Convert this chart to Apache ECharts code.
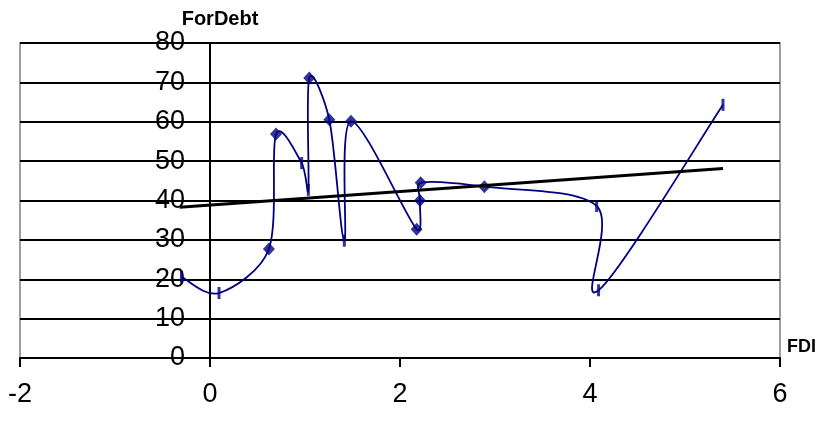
<!DOCTYPE html>
<html>
<head>
<meta charset="utf-8">
<script src="https://cdn.jsdelivr.net/npm/echarts@6/dist/echarts.min.js"></script>
<style>
  html, body { margin: 0; padding: 0; background: #fff; }
  #chart { width: 823px; height: 426px; }
</style>
</head>
<body>
<div id="chart"></div>
<script>
// FDI (x) against ForDebt (y), in data order, joined by a smoothed curve
const fdi     = [-0.30, 0.095, 0.62, 0.695, 0.965, 1.035, 1.045, 1.256, 1.414, 1.484, 2.175, 2.21, 2.218, 2.888, 4.07, 4.09, 5.40];
const forDebt = [20.6, 16.5, 27.7, 56.9, 49.5, 42.7, 71.1, 60.5, 29.8, 60.1, 32.7, 40.0, 44.5, 43.5, 38.6, 17.2, 64.3];
// marker kind per point: diamond or short vertical bar
const markerKind = ['bar', 'bar', 'diamond', 'diamond', 'bar', 'bar', 'diamond', 'diamond', 'bar',
                    'diamond', 'diamond', 'diamond', 'diamond', 'diamond', 'bar', 'bar', 'bar'];

// linear trend line end points
const trendX = [-0.32, 5.40];
const trendY = [38.3, 48.1];

// axis ranges
const xRange = { min: -2, max: 6, step: 2 };
const yRange = { min: 0, max: 80, step: 10 };

const NAVY = '#000080';
const FONT = 'Liberation Sans, Arial, sans-serif';

// plot area box (pixels from the container edges)
const GRID = { left: 20, right: 43, top: 43, bottom: 68 };
const CHART_W = 823;
// the value axis is drawn where FDI = 0
const plotW = CHART_W - GRID.left - GRID.right;
const yAxisShift = -plotW * (0 - xRange.min) / (xRange.max - xRange.min);

const pairs = fdi.map((x, i) => [x, forDebt[i]]);

const markerData = pairs.map((p, i) => {
  const diamond = markerKind[i] === 'diamond';
  return {
    value: p,
    symbol: diamond ? 'diamond' : 'rect',
    symbolSize: diamond ? [12, 13] : [3, 12]
  };
});

const trendData = trendX.map((x, i) => [x, trendY[i]]);

// control handle: a sixth of the neighbour chord, kept short on short segments
function handle(from, to, segLen) {
  let dx = (to[0] - from[0]) / 6, dy = (to[1] - from[1]) / 6;
  const len = Math.hypot(dx, dy), cap = 0.35 * segLen;
  if (len > cap && len > 0) { dx *= cap / len; dy *= cap / len; }
  return [dx, dy];
}

// cardinal segment from point i to point i+1, in pixel space
function renderSegment(params, api) {
  const i = params.dataIndex;
  const n = pairs.length;
  if (i >= n - 1) return null;
  const at = k => api.coord(pairs[Math.max(0, Math.min(n - 1, k))]);
  const p0 = at(i - 1), p1 = at(i), p2 = at(i + 1), p3 = at(i + 2);
  const seg = Math.hypot(p2[0] - p1[0], p2[1] - p1[1]);
  const h1 = handle(p0, p2, seg), h2 = handle(p1, p3, seg);
  return {
    type: 'bezierCurve',
    shape: {
      x1: p1[0], y1: p1[1],
      x2: p2[0], y2: p2[1],
      cpx1: p1[0] + h1[0], cpy1: p1[1] + h1[1],
      cpx2: p2[0] - h2[0], cpy2: p2[1] - h2[1]
    },
    style: { stroke: NAVY, lineWidth: 1.8, fill: null }
  };
}

const chart = echarts.init(document.getElementById('chart'), null, { renderer: 'canvas' });
chart.setOption({
  animation: false,
  backgroundColor: '#ffffff',
  grid: {
    left: GRID.left, right: GRID.right, top: GRID.top, bottom: GRID.bottom,
    containLabel: false,
    outerBoundsMode: 'none',
    show: true, borderColor: '#808080', borderWidth: 1.5, backgroundColor: 'transparent'
  },
  xAxis: {
    type: 'value',
    min: xRange.min, max: xRange.max, interval: xRange.step,
    name: 'FDI',
    nameLocation: 'end',
    nameGap: 7,
    nameTextStyle: { fontFamily: FONT, fontSize: 18, fontWeight: 'bold', color: '#000',
                     verticalAlign: 'bottom', padding: [0, 0, 2, 0] },
    axisLine: { onZero: false, lineStyle: { color: '#000', width: 2 } },
    axisTick: { show: true, length: 9, lineStyle: { color: '#000', width: 2 } },
    axisLabel: { fontFamily: FONT, fontSize: 27, color: '#000', margin: 23 },
    splitLine: { show: false }
  },
  yAxis: {
    type: 'value',
    min: yRange.min, max: yRange.max, interval: yRange.step,
    offset: yAxisShift,
    name: 'ForDebt',
    nameLocation: 'end',
    nameGap: 14,
    nameTextStyle: { fontFamily: FONT, fontSize: 20, fontWeight: 'bold', color: '#000',
                     padding: [0, 0, 0, 20] },
    axisLine: { onZero: false, lineStyle: { color: '#000', width: 2 } },
    axisTick: { show: true, length: 8, lineStyle: { color: '#000', width: 2 } },
    axisLabel: { fontFamily: FONT, fontSize: 27, color: '#000', margin: 25, padding: [6, 0, 0, 0] },
    splitLine: { show: true, lineStyle: { color: '#000', width: 1.8 } }
  },
  series: [
    {
      type: 'custom',
      data: pairs,
      encode: { x: 0, y: 1 },
      renderItem: renderSegment,
      z: 3
    },
    {
      type: 'scatter',
      data: markerData,
      itemStyle: { color: NAVY, borderWidth: 0 },
      z: 4
    },
    {
      type: 'line',
      data: trendData,
      showSymbol: false,
      lineStyle: { color: '#000', width: 3 },
      z: 5
    }
  ]
});
</script>
</body>
</html>
